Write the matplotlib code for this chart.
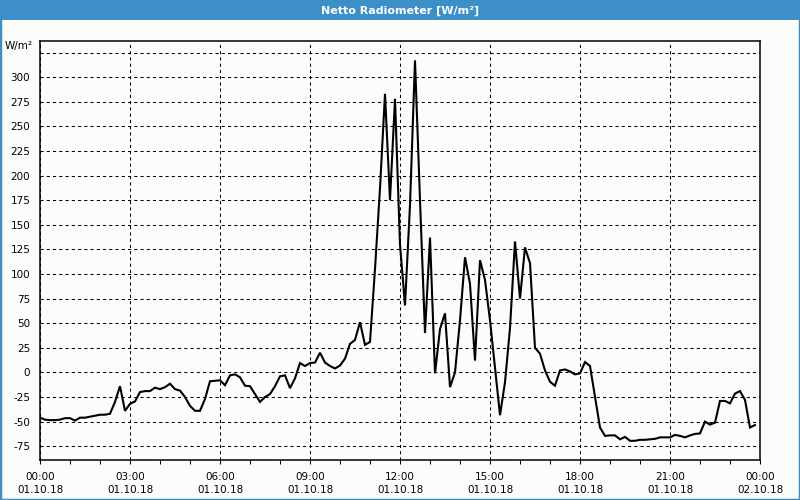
import matplotlib
matplotlib.use("Agg")
import matplotlib.pyplot as plt
import matplotlib.dates as mdates
from matplotlib.patches import Rectangle
import pandas as pd
import numpy as np

title = "Netto Radiometer [W/m²]"
unit_label = "W/m²"
start_time = "2018-10-01 00:00"
end_time = "2018-10-02 00:00"
sample_minutes = 10

values = [
    -46, -48, -48.5, -48.5, -48, -46.5, -46.5, -49, -46, -46,
    -45, -44, -43, -43, -42, -30, -14, -39, -32, -29.5,
    -20, -19, -19, -15.5, -17, -15, -11.5, -17, -18.5, -25,
    -34, -39, -39, -27, -9, -8.5, -8, -13, -3, -2,
    -5, -13.5, -14, -22, -30, -25, -22, -14, -4, -3,
    -16, -6, 9.5, 6.5, 9.5, 10, 20, 10, 6.5, 4,
    7, 14, 29, 33, 51, 28, 31, 105, 187, 283,
    175, 278, 130, 68, 170, 317, 175, 40, 137, -1,
    44, 60, -15, 0, 53, 117, 90, 12, 114, 94,
    53, 5, -43.5, -10, 45, 133, 75, 127, 111, 25,
    19, 2, -9.5, -13.5, 2, 3, 1, -2, -1, 10.5,
    6.5, -25, -56, -64.5, -64, -64, -68, -65.5, -69.5, -69.5,
    -68.5, -68.5, -68, -67.5, -66, -66, -66, -63.5, -64.5, -66,
    -64, -62.5, -62, -50, -53, -51, -29, -29, -31.5, -21.5,
    -19, -28, -56, -53.5,
]
y_ticks = [-75, -50, -25, 0, 25, 50, 75, 100, 125, 150, 175, 200, 225, 250, 275, 300]
y_grid_extra = [325]
y_limits = (-89, 337)

times = pd.date_range(start_time, periods=len(values), freq=f"{sample_minutes}min")

W, H = 800, 500
bg = "#fbfdfb"
blue = "#3c8fc7"

fig = plt.figure(figsize=(8, 5), dpi=100, facecolor=bg)

# title bar
fig.patches.append(Rectangle((0, 1 - 20 / H), 1, 20 / H, transform=fig.transFigure,
                             facecolor=blue, edgecolor="none", zorder=0))
fig.text(0.5, 1 - 10.5 / H, title, color="white", fontsize=8, fontweight="bold",
         ha="center", va="center")
# outer border
fig.patches.append(Rectangle((0, 0), 1, 1, transform=fig.transFigure, fill=False,
                             edgecolor=blue, linewidth=2.5, zorder=10))

left, right, top, bottom = 40, 760, 40.7, 460
ax = fig.add_axes([left / W, 1 - bottom / H, (right - left) / W, (bottom - top) / H])
ax.set_facecolor(bg)

ax.plot(times, values, color="black", linewidth=1.5, solid_joinstyle="miter", zorder=3)

ax.set_xlim(pd.Timestamp(start_time), pd.Timestamp(end_time))
ax.set_ylim(*y_limits)

ax.xaxis.set_major_locator(mdates.HourLocator(byhour=range(0, 24, 3)))
ax.xaxis.set_minor_locator(mdates.HourLocator())
ax.xaxis.set_major_formatter(mdates.DateFormatter("%H:%M\n%d.%m.%y"))

ax.set_yticks(y_ticks + y_grid_extra)
ax.set_yticklabels([str(v) for v in y_ticks] + [""])

grid_kw = dict(color="black", linewidth=0.75, dashes=(3, 3))
ax.grid(True, which="major", axis="both", **grid_kw)
ax.set_axisbelow(True)

for sp in ax.spines.values():
    sp.set_linewidth(1.1)
    sp.set_color("black")

ax.tick_params(axis="x", which="major", length=3, width=0.75, pad=5.5, labelsize=7.5,
               direction="out")
ax.tick_params(axis="x", which="minor", length=3, width=0.75, direction="out")
ax.tick_params(axis="y", which="major", length=0, pad=7, labelsize=7.5)
for lbl in ax.get_xticklabels():
    lbl.set_linespacing(1.42)

fig.text(33 / W, 1 - 46 / H, unit_label, fontsize=7.5, ha="right", va="center")

fig.savefig("out.png", dpi=100, facecolor=bg)
